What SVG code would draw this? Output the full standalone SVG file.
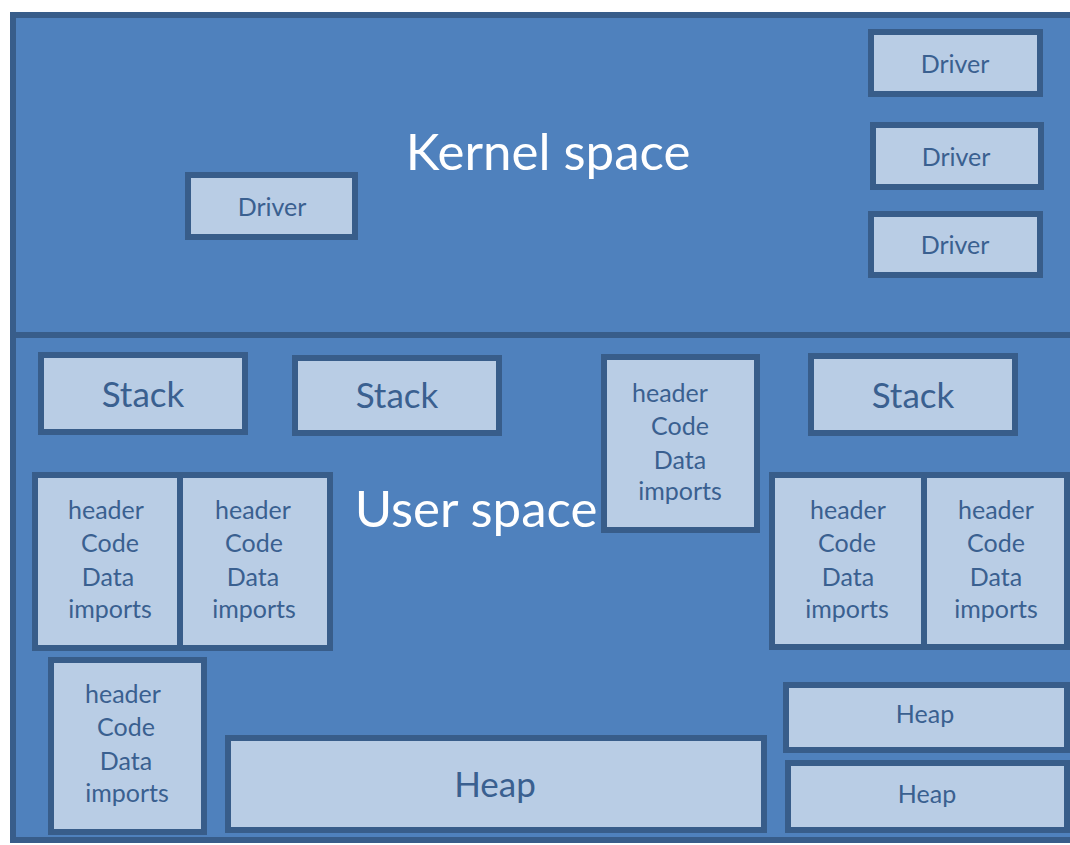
<svg xmlns="http://www.w3.org/2000/svg" width="1070" height="845" viewBox="0 0 1070 845">
<style>
.frame{fill:#4f81bd;stroke:#385d8a;stroke-width:6}
.box{fill:#b9cde5;stroke:#385d8a;stroke-width:6}
.t{font-family:Lato,"Liberation Sans",sans-serif;fill:#3a6090;text-anchor:middle}
.s{font-size:25px}
.m{font-size:35px}
.big{font-family:Lato,"Liberation Sans",sans-serif;fill:#ffffff;font-size:51px;text-anchor:middle}
</style>
<rect width="1070" height="845" fill="#ffffff"/>
<g id="frame">
<rect class="frame" x="13" y="15" width="1080" height="825"/>
<line x1="13" y1="335" x2="1070" y2="335" stroke="#385d8a" stroke-width="6"/>
<text class="big" x="548" y="170">Kernel space</text>
<text class="big" x="476" y="527">User space</text>
</g>
<g id="connectors"></g>
<g id="driver-left"><rect class="box" x="188" y="175" width="167" height="62"/><text class="t s" x="272" y="216">Driver</text></g>
<g id="driver-r1"><rect class="box" x="871" y="32" width="169" height="62"/><text class="t s" x="955" y="73">Driver</text></g>
<g id="driver-r2"><rect class="box" x="873" y="125" width="168" height="62"/><text class="t s" x="956" y="166">Driver</text></g>
<g id="driver-r3"><rect class="box" x="871" y="214" width="169" height="61"/><text class="t s" x="955" y="254">Driver</text></g>
<g id="stack1"><rect class="box" x="41" y="355" width="204" height="77"/><text class="t m" x="143" y="407">Stack</text></g>
<g id="stack2"><rect class="box" x="295" y="358" width="204" height="75"/><text class="t m" x="397" y="408">Stack</text></g>
<g id="stack3"><rect class="box" x="811" y="356" width="204" height="77"/><text class="t m" x="913" y="408">Stack</text></g>
<g id="image-center"><rect class="box" x="604" y="357" width="153" height="173"/>
<text class="t s" x="670" y="402">header</text><text class="t s" x="680" y="435">Code</text><text class="t s" x="680" y="469">Data</text><text class="t s" x="680" y="500">imports</text></g>
<g id="image-a"><rect class="box" x="35" y="475" width="145" height="173"/>
<text class="t s" x="106" y="519">header</text><text class="t s" x="110" y="552">Code</text><text class="t s" x="108" y="586">Data</text><text class="t s" x="110" y="618">imports</text></g>
<g id="image-b"><rect class="box" x="180" y="475" width="150" height="173"/>
<text class="t s" x="253" y="519">header</text><text class="t s" x="254" y="552">Code</text><text class="t s" x="253" y="586">Data</text><text class="t s" x="254" y="618">imports</text></g>
<g id="image-c"><rect class="box" x="772" y="475" width="152" height="172"/>
<text class="t s" x="848" y="519">header</text><text class="t s" x="847" y="552">Code</text><text class="t s" x="848" y="586">Data</text><text class="t s" x="847" y="618">imports</text></g>
<g id="image-d"><rect class="box" x="924" y="475" width="143" height="172"/>
<text class="t s" x="996" y="519">header</text><text class="t s" x="996" y="552">Code</text><text class="t s" x="996" y="586">Data</text><text class="t s" x="996" y="618">imports</text></g>
<g id="image-e"><rect class="box" x="51" y="660" width="153" height="172"/>
<text class="t s" x="123" y="703">header</text><text class="t s" x="126" y="736">Code</text><text class="t s" x="126" y="770">Data</text><text class="t s" x="127" y="802">imports</text></g>
<g id="heap-big"><rect class="box" x="228" y="738" width="536" height="92"/><text class="t m" x="495" y="797">Heap</text></g>
<g id="heap1"><rect class="box" x="786" y="685" width="281" height="65"/><text class="t s" x="925" y="723">Heap</text></g>
<g id="heap2"><rect class="box" x="788" y="763" width="279" height="67"/><text class="t s" x="927" y="803">Heap</text></g>
</svg>
